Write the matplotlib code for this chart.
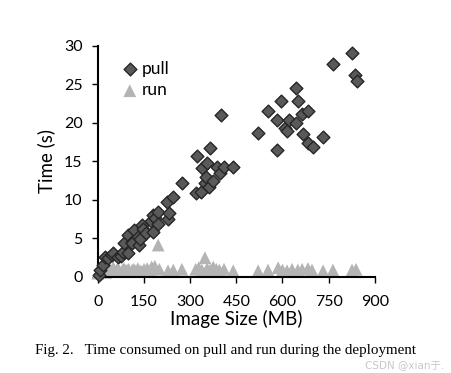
import matplotlib
matplotlib.use("Agg")
import matplotlib.pyplot as plt

pull_x = [3, 8, 17, 24, 34, 45, 48, 66, 74, 82, 86, 99, 99, 110, 112, 118, 131, 134, 137, 142,
          147, 158, 174, 178, 180, 185, 196, 196, 225, 227, 232, 243, 272, 319, 323, 334, 337,
          348, 353, 356, 362, 364, 373, 386, 397, 399, 410, 438, 521, 554, 581, 583, 594, 608,
          614, 622, 644, 644, 651, 662, 668, 684, 684, 698, 731, 763, 825, 836, 841]
pull_y = [0.3, 0.9, 1.6, 2.6, 2.5, 2.9, 3.15, 2.6, 2.7, 3.3, 4.4, 3.1, 5.45, 4.6, 4.4, 6.1, 5.2,
          4.2, 4.9, 6.7, 6.2, 5.75, 7.3, 5.8, 8.0, 7.6, 8.4, 6.85, 9.8, 7.5, 8.35, 10.4, 12.2,
          10.9, 15.75, 11.0, 14.2, 12.25, 13.0, 14.8, 11.65, 16.7, 12.5, 14.3, 13.5, 21.0, 14.25,
          14.3, 18.65, 21.6, 16.5, 20.4, 22.8, 19.3, 19.0, 20.4, 24.6, 20.0, 22.8, 21.2, 18.6,
          21.6, 17.35, 16.9, 18.15, 27.7, 29.1, 26.2, 25.4]

run_x = [0, 5, 10, 15, 20, 25, 30, 35, 40, 45, 50, 55, 60, 65, 70, 80, 85, 90, 95, 100, 110,
         115, 120, 130, 140, 150, 160, 170, 175, 185, 196, 200, 228, 245, 273, 318, 328, 338,
         348, 355, 365, 375, 385, 395, 410, 440, 521, 553, 586, 600, 615, 631, 650, 664, 683,
         696, 732, 764, 826, 839]
run_y = [0.5, 0.7, 0.9, 1.1, 0.8, 0.6, 1.0, 0.7, 0.9, 0.8, 1.2, 0.7, 0.9, 1.0, 0.8, 0.9, 1.1,
         0.8, 0.9, 1.0, 0.8, 1.0, 0.9, 1.1, 0.8, 1.0, 1.1, 0.9, 1.3, 1.4, 4.15, 1.0, 0.8, 0.9,
         1.0, 1.0, 1.2, 0.9, 2.5, 1.1, 0.9, 1.3, 1.0, 0.9, 1.0, 0.8, 0.8, 0.9, 1.2, 0.9, 0.8,
         1.0, 0.9, 1.0, 1.1, 0.9, 0.8, 0.9, 0.9, 1.0]

x_ticks = [0, 150, 300, 450, 600, 750, 900]
y_ticks = [0, 5, 10, 15, 20, 25, 30]

plt.rcParams['font.family'] = ['Lato', 'DejaVu Sans']

fig = plt.figure(figsize=(4.51, 3.73), dpi=100)
ax = fig.add_axes([0.217, 0.2574, 0.614, 0.6193])

ax.scatter(run_x, run_y, marker='^', s=85, color='#b4b4b4', edgecolors='none',
           label='run', clip_on=False, zorder=2)
ax.scatter(pull_x, pull_y, marker='D', s=42, color='#595959', edgecolors='#262626',
           linewidths=1.0, label='pull', clip_on=False, zorder=3)

ax.set_xlim(0, 900)
ax.set_ylim(0, 30)
ax.set_xticks(x_ticks)
ax.set_yticks(y_ticks)
ax.tick_params(axis='both', labelsize=11.5, length=4, width=1, direction='out', colors='black')
ax.tick_params(axis='x', pad=9)
ax.tick_params(axis='y', pad=7)
for s in ['top', 'right']:
    ax.spines[s].set_visible(False)
for s in ['left', 'bottom']:
    ax.spines[s].set_linewidth(1.5)

ax.set_xlabel('Image Size (MB)', fontsize=13.5, labelpad=1)
ax.set_ylabel('Time (s)', fontsize=13.5, labelpad=6)

handles, labels = ax.get_legend_handles_labels()
ax.legend(handles[::-1], labels[::-1], loc='upper left', bbox_to_anchor=(0.04, 0.98),
          frameon=False, fontsize=12.5, handletextpad=0.1, labelspacing=0.3,
          borderaxespad=0.2, handlelength=1.2)

fig.text(0.078, 0.060, 'Fig. 2.   Time consumed on pull and run during the deployment',
         ha='left', va='center', fontsize=10.8, family=['Liberation Serif'])
fig.text(0.985, 0.020, 'CSDN @xian于.', ha='right', va='center', fontsize=7.5,
         color='#c8c8c8', family=['DejaVu Sans', 'Noto Sans CJK SC'])

fig.savefig('out.png', dpi=100)
